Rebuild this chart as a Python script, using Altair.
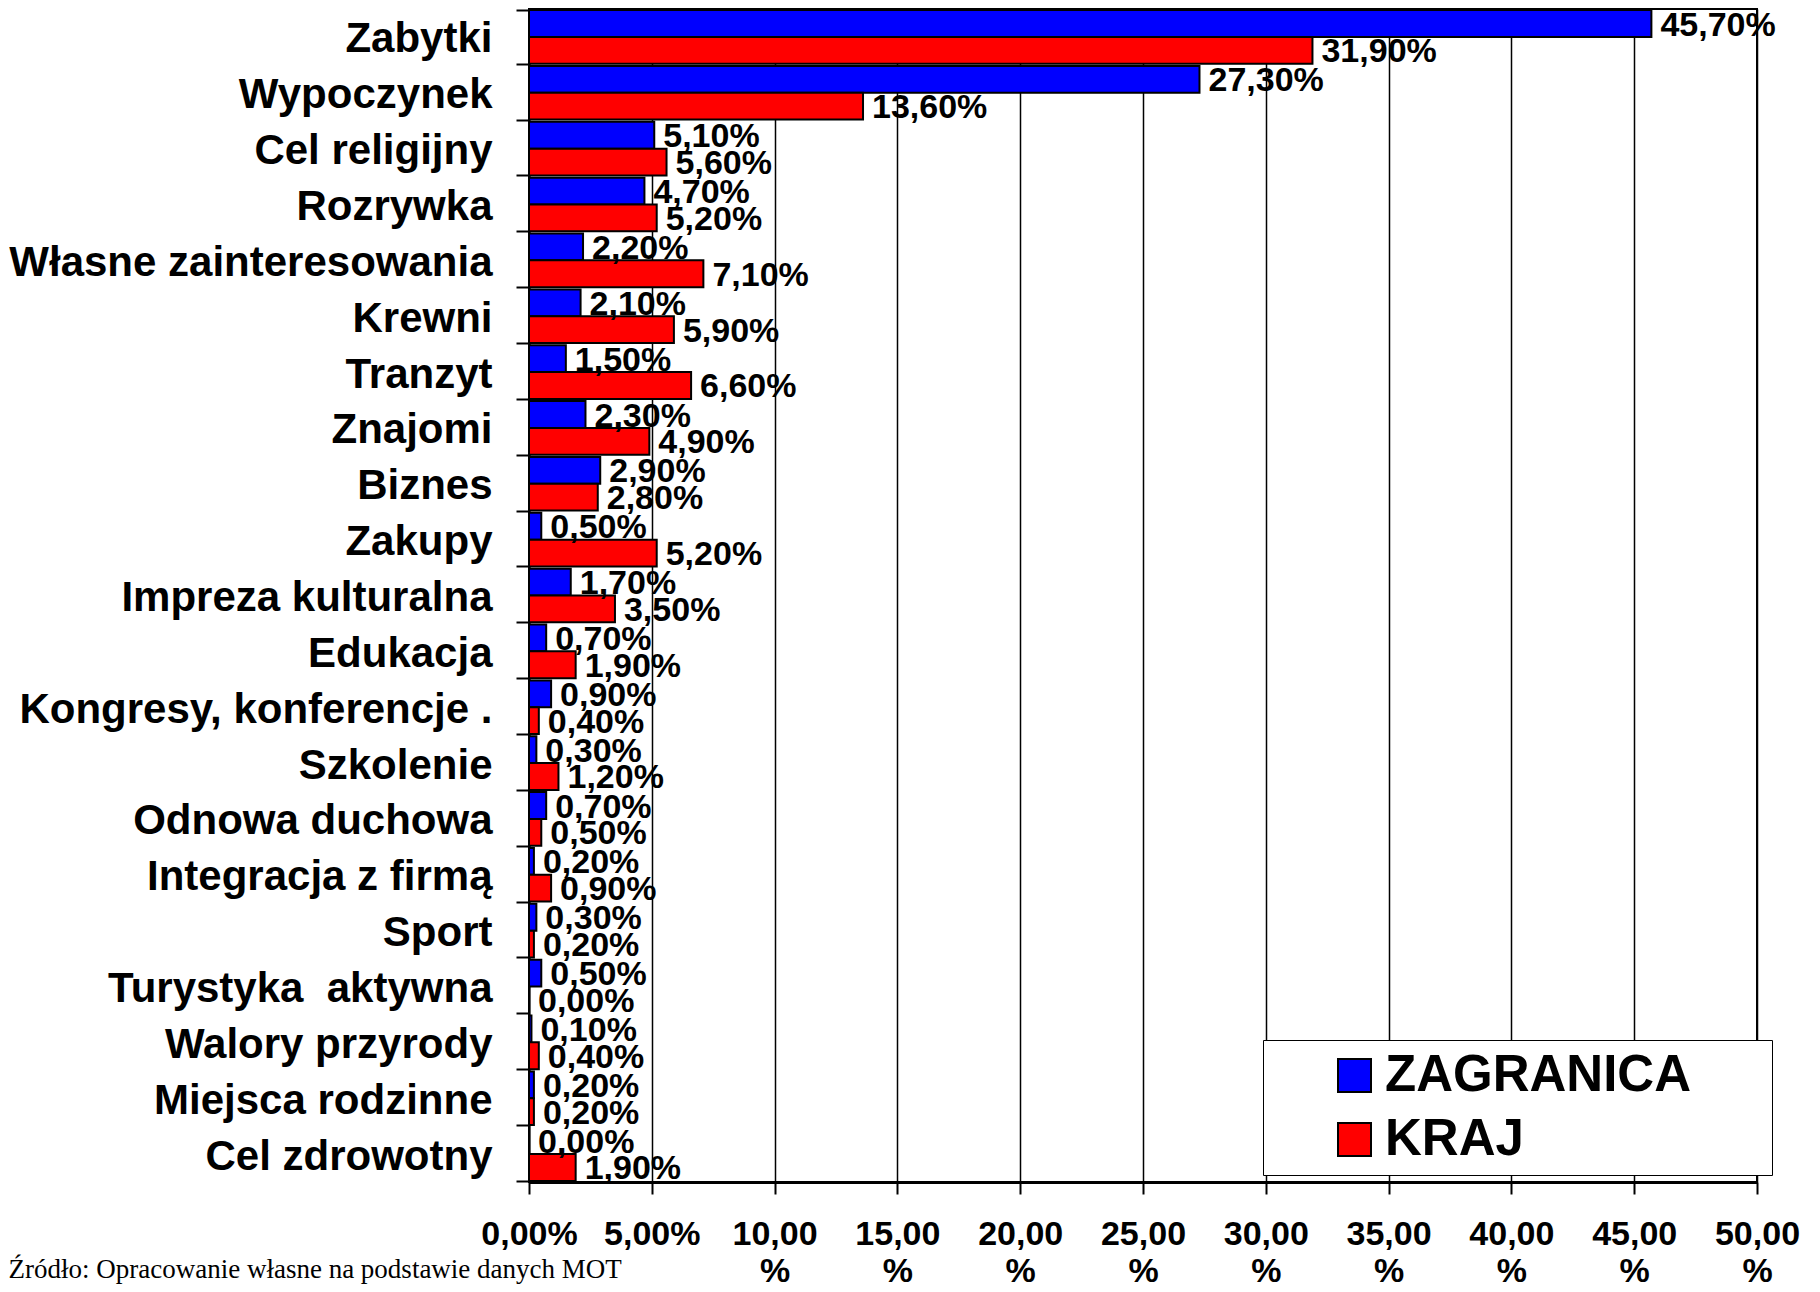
import altair as alt
import pandas as pd

categories = [
    "Zabytki", "Wypoczynek", "Cel religijny", "Rozrywka",
    "Własne zainteresowania", "Krewni", "Tranzyt", "Znajomi", "Biznes",
    "Zakupy", "Impreza kulturalna", "Edukacja", "Kongresy, konferencje .",
    "Szkolenie", "Odnowa duchowa", "Integracja z firmą", "Sport",
    "Turystyka\u00a0 aktywna", "Walory przyrody", "Miejsca rodzinne",
    "Cel zdrowotny",
]
zagranica = [45.7, 27.3, 5.1, 4.7, 2.2, 2.1, 1.5, 2.3, 2.9, 0.5, 1.7, 0.7,
             0.9, 0.3, 0.7, 0.2, 0.3, 0.5, 0.1, 0.2, 0.0]
kraj = [31.9, 13.6, 5.6, 5.2, 7.1, 5.9, 6.6, 4.9, 2.8, 5.2, 3.5, 1.9,
        0.4, 1.2, 0.5, 0.9, 0.2, 0.0, 0.4, 0.2, 1.9]
series = ["ZAGRANICA", "KRAJ"]
colors = ["#0000FF", "#FF0000"]
x_ticks = [0, 5, 10, 15, 20, 25, 30, 35, 40, 45, 50]

rows = []
for c, z, k in zip(categories, zagranica, kraj):
    rows.append({"cat": c, "series": "ZAGRANICA", "value": z})
    rows.append({"cat": c, "series": "KRAJ", "value": k})
df = pd.DataFrame(rows)

FONT = "Liberation Sans"
PAD = "\u00a0" * 5 + "\u200b"

y_enc = alt.Y(
    "cat:N", sort=categories,
    scale=alt.Scale(paddingInner=0.04, paddingOuter=0.02),
    axis=alt.Axis(
        title=None, tickBand="extent", tickSize=13, tickWidth=2,
        domainWidth=2, labelFontSize=42, labelFontWeight="bold",
        labelFont=FONT, labelPadding=24, labelLimit=700, labelOffset=2,
        labelColor="black", tickColor="black", domainColor="black",
    ),
)
yoff = alt.YOffset("series:N", sort=series)

x_enc = alt.X(
    "value:Q",
    scale=alt.Scale(domain=[0, 50], nice=False),
    axis=alt.Axis(
        values=x_ticks,
        labelExpr="datum.value < 10 ? replace(format(datum.value, '.2f'), '.', ',') + '%' : [replace(format(datum.value, '.2f'), '.', ','), '%']",
        grid=True, gridColor="black", gridWidth=1.5, gridOpacity=1,
        tickSize=12, tickWidth=2, tickColor="black",
        domainWidth=3, domainColor="black",
        labelFontSize=34, labelFontWeight="bold", labelFont=FONT,
        labelColor="black", labelPadding=23, labelLineHeight=37,
        labelBaseline="top", labelOverlap=False, labelFlush=False,
        labelBound=False,
        title="Źródło: Opracowanie własne na podstawie danych MOT",
        titleX=-521, titleY=95, titleAlign="left", titleBaseline="alphabetic",
        titleFont="Liberation Serif", titleFontSize=27,
        titleFontWeight="normal", titleColor="black",
    ),
)

bars = alt.Chart(df).mark_bar(stroke="black", strokeWidth=2).encode(
    y=y_enc,
    yOffset=yoff,
    x=x_enc,
    color=alt.Color(
        "series:N",
        scale=alt.Scale(domain=series, range=colors),
        legend=alt.Legend(
            title=None, orient="none", legendX=734, legendY=1031,
            fillColor="white", strokeColor="black",
            padding=10, rowPadding=12,
            symbolType="square", symbolSize=1089, symbolStrokeColor="black",
            symbolStrokeWidth=2, symbolOpacity=1, symbolOffset=56,
            labelOffset=5, labelFontSize=51, labelFontWeight="bold",
            labelFont=FONT, labelColor="black", labelLimit=800,
            labelExpr="datum.label == 'ZAGRANICA' ? 'ZAGRANICA" + PAD + "' : datum.label",
        ),
    ),
)

labels = alt.Chart(df).transform_calculate(
    txt="replace(format(datum.value, '.2f'), '.', ',') + '%'"
).mark_text(
    align="left", baseline="middle", dx=9, dy=2,
    fontSize=34, fontWeight="bold", font=FONT, color="black",
).encode(
    y=alt.Y("cat:N", sort=categories),
    yOffset=yoff,
    x=alt.X("value:Q"),
    text="txt:N",
)

chart = alt.layer(bars, labels).properties(
    width=1228, height=1173,
    autosize=alt.AutoSizeParams(type="none"),
    padding={"left": 521, "top": 1, "right": 50, "bottom": 108},
    title=alt.TitleParams(
        text="KRAJ I ZAGRANICA", color="#FF0000", fontSize=53, font=FONT,
        fontWeight="bold", anchor="middle", frame="group", dx=-248,
        offset=4, baseline="alphabetic",
    ),
).configure_view(stroke="black", strokeWidth=2)

chart.save("out.html", embed_options={"renderer": "svg", "actions": False})
